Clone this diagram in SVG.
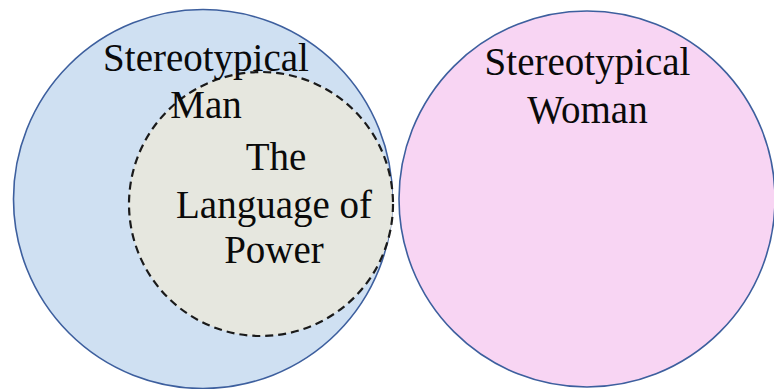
<svg xmlns="http://www.w3.org/2000/svg" width="774" height="389" viewBox="0 0 774 389">
  <style>
    .set { stroke: #3d5f9e; stroke-width: 1.6; }
    .lbl { font-family: "Liberation Serif", "Times New Roman", serif; font-size: 39px; fill: #0a0a0a; text-anchor: middle; }
  </style>
  <rect width="774" height="389" fill="#ffffff"/>
  <g id="man">
    <circle class="set" cx="203" cy="199" r="189.5" fill="#cfe0f2"/>
  </g>
  <g id="power">
    <circle cx="261" cy="204" r="132" fill="#e6e7df" stroke="#1a1a1a" stroke-width="2.2" stroke-dasharray="8 5"/>
  </g>
  <g id="woman">
    <circle class="set" cx="587" cy="199" r="188" fill="#f8d5f3"/>
  </g>
  <g id="labels">
    <text class="lbl" x="206" y="71">Stereotypical</text>
    <text class="lbl" x="206" y="118">Man</text>
    <text class="lbl" x="276" y="170">The</text>
    <text class="lbl" x="274" y="218">Language of</text>
    <text class="lbl" x="274" y="263">Power</text>
    <text class="lbl" x="587.5" y="75">Stereotypical</text>
    <text class="lbl" x="587.5" y="123">Woman</text>
  </g>
  <g id="connectors"></g>
</svg>
